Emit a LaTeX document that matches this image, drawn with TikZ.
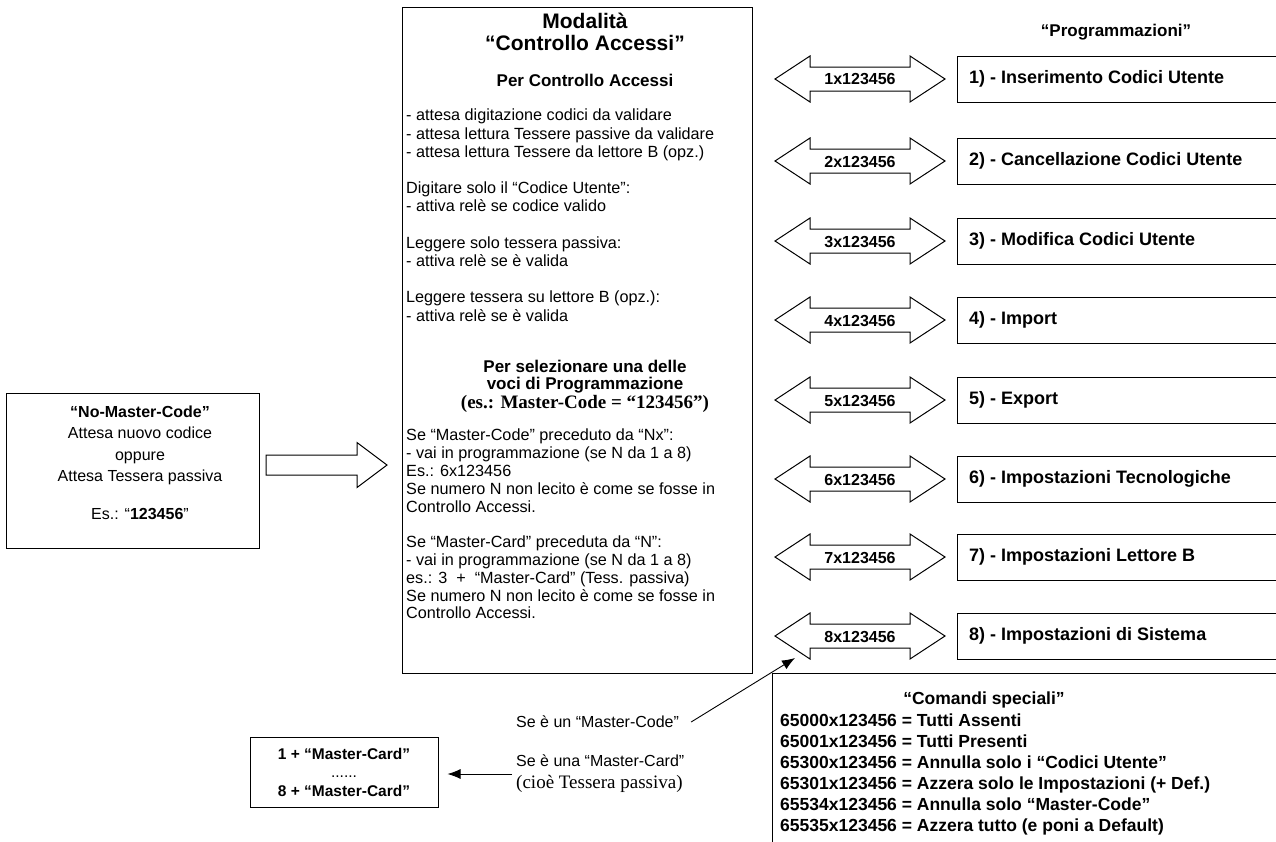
\documentclass[tikz,border=0pt]{standalone}
\usepackage{fontspec}
\setmainfont{Liberation Sans}
\newfontfamily\timesfont{Liberation Serif}
\usepackage{tikz}
\usetikzlibrary{arrows.meta}
\newcommand\fsz[2]{\fontsize{#1}{#2}\selectfont}

\begin{document}
\begin{tikzpicture}[x=1pt,y=-1pt,
    box/.style={draw,line width=1pt,inner sep=0},
    body/.style={font=\fsz{16.2}{18.2},align=left,inner sep=0,anchor=north west},
    heading/.style={font=\fsz{17}{17.5}\bfseries,align=center,inner sep=0},
    progtext/.style={font=\fsz{18}{20}\bfseries,inner sep=0},
    codetext/.style={font=\fsz{16}{18}\bfseries,inner sep=0},
    cmdtext/.style={font=\fsz{17.5}{21}\bfseries,align=left,inner sep=0},
    blockarrow/.style={draw,line width=1pt,line join=miter},
    pointer/.style={line width=0.9pt,-{Latex[length=13pt,width=10pt]}}]
    \useasboundingbox (0,0) rectangle (1276,841);

    \node[box,anchor=north west,minimum width=253,minimum height=155] (nomaster) at (6,393) {};
    \node[font=\fsz{16}{21.5},align=center,inner sep=0] (nomastertxt) at (140,463)
      {\textbf{“No-Master-Code”}\\Attesa nuovo codice\\oppure\\Attesa Tessera passiva\\[16.5pt]Es.: “\textbf{123456}”};
    \draw[blockarrow] (266,455) -- (357,455) -- (357,442.5) -- (387,465) -- (357,487.5) -- (357,475) -- (266,475) -- cycle;

    \node[box,anchor=north west,minimum width=350,minimum height=666] (mode) at (402,7) {};
    \node[font=\fsz{21}{22}\bfseries,align=center,inner sep=0] (modetitle) at (585,32) {Modalità\\“Controllo Accessi”};
    \node[heading] (percontrollo) at (585,80) {Per Controllo Accessi};
    \node[body] (attesa) at (406,109) {- attesa digitazione codici da validare\\
      - attesa lettura Tessere passive da validare\\
      - attesa lettura Tessere da lettore B (opz.)\\[18.2pt]
      Digitare solo il “Codice Utente”:\\
      - attiva relè se codice valido\\[18.2pt]
      Leggere solo tessera passiva:\\
      - attiva relè se è valida\\[18.2pt]
      Leggere tessera su lettore B (opz.):\\
      - attiva relè se è valida};
    \node[heading] (selprog) at (585,376.5) {Per selezionare una delle\\voci di Programmazione};
    \node[font=\timesfont\fsz{19}{20}\bfseries,inner sep=0] (esmaster) at (585,404) {(es.: Master-Code = “123456”)};
    \node[body,font=\fsz{16.2}{17.8}] (nxrule) at (406,429) {Se “Master-Code” preceduto da “Nx”:\\
      - vai in programmazione (se N da 1 a 8)\\
      Es.: 6x123456\\
      Se numero N non lecito è come se fosse in\\
      Controllo Accessi.\\[17.8pt]
      Se “Master-Card” preceduta da “N”:\\
      - vai in programmazione (se N da 1 a 8)\\
      es.: 3~~+~~“Master-Card” (Tess. passiva)\\
      Se numero N non lecito è come se fosse in\\
      Controllo Accessi.};

    \node[font=\fsz{17}{20}\bfseries,inner sep=0] (progtitle) at (1116,32) {“Programmazioni”};
    \foreach \i/\yy/\lbl in {1/56/Inserimento Codici Utente,2/138/Cancellazione Codici Utente,
        3/218/Modifica Codici Utente,4/297/Import,5/377/Export,6/456/Impostazioni Tecnologiche,
        7/534/Impostazioni Lettore B,8/613/Impostazioni di Sistema}{
      \node[box,anchor=north west,minimum width=321,minimum height=46] (prog\i) at (957,\yy) {};
      \node[progtext,anchor=west] (progtxt\i) at ([xshift=12pt,yshift=1pt]prog\i.west) {\i) - \lbl};
      \draw[blockarrow] (775,\yy+23) -- ++(35,-23) -- ++(0,11) -- ++(100,0) -- ++(0,-11) -- ++(35,23)
        -- ++(-35,23) -- ++(0,-11) -- ++(-100,0) -- ++(0,11) -- cycle;
      \node[codetext] (code\i) at (860,\yy+23.5) {\i x123456};
    }

    \node[box,anchor=north west,minimum width=510,minimum height=180] (cmdbox) at (772,673) {};
    \node[font=\fsz{17.5}{21}\bfseries,inner sep=0] (cmdtitle) at (984,700) {“Comandi speciali”};
    \node[cmdtext,anchor=north west] (cmdlist) at (780,714) {65000x123456 = Tutti Assenti\\
      65001x123456 = Tutti Presenti\\
      65300x123456 = Annulla solo i “Codici Utente”\\
      65301x123456 = Azzera solo le Impostazioni (+ Def.)\\
      65534x123456 = Annulla solo “Master-Code”\\
      65535x123456 = Azzera tutto (e poni a Default)};

    \node[box,minimum width=188,minimum height=70,align=center,font=\fsz{15.5}{18.5}\bfseries] (mcard) at (344,772)
      {1 + “Master-Card”\\{\mdseries ......}\\8 + “Master-Card”};
    \node[font=\fsz{16}{20},inner sep=0,anchor=west] (ifcode) at (516,722) {Se è un “Master-Code”};
    \coordinate (tip8) at (795,658);
    \draw[pointer] ([xshift=12pt]ifcode.east) -- (tip8);
    \node[font=\fsz{16}{22},align=left,inner sep=0,anchor=west] (ifcard) at (516,774)
      {Se è una “Master-Card”\\{\timesfont\fsz{19}{22}(cioè Tessera passiva)}};
    \draw[pointer,shorten >=9pt] ([xshift=-4pt]ifcard.west) -- (mcard.east |- ifcard.west);
\end{tikzpicture}
\end{document}
